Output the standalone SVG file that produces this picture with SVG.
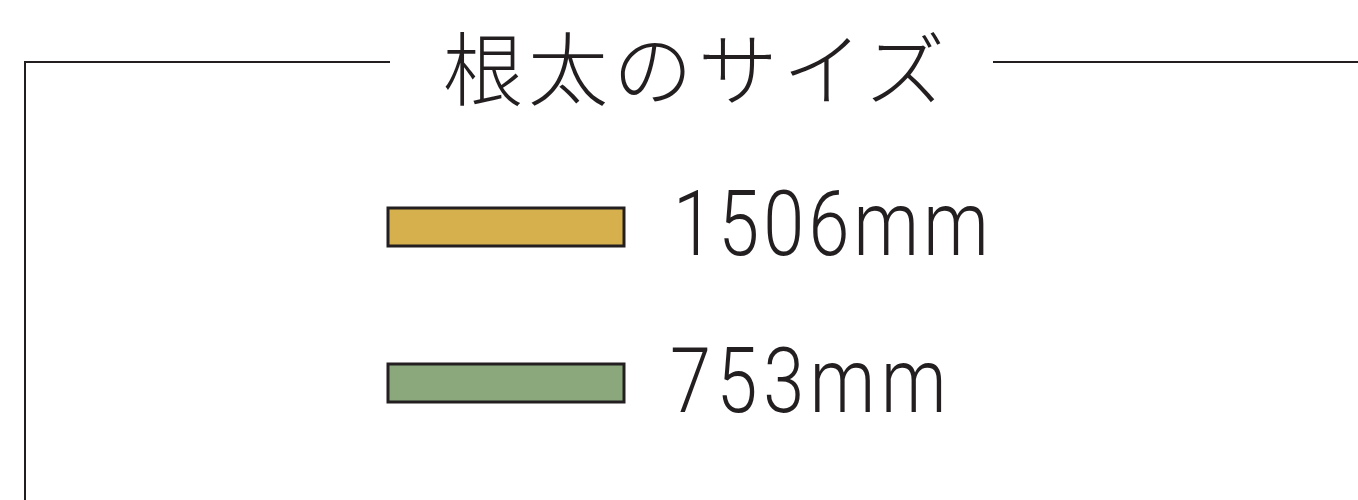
<svg xmlns="http://www.w3.org/2000/svg" width="1358" height="500" viewBox="0 0 1358 500">
<style>
.frame{fill:none;stroke:#231f20;stroke-width:2}
.bar{stroke:#231f20;stroke-width:3}
.num{font-family:Roboto,"Liberation Sans",sans-serif;font-weight:300;font-size:90px;fill:#231f20}
.title{font-family:"Noto Sans CJK JP",sans-serif;font-weight:300;font-size:80px;fill:#231f20}
</style>
<g id="frame">
<polyline class="frame" points="390,62 25,62 25,500"/>
<line class="frame" x1="993" y1="62" x2="1358" y2="62"/>
</g>
<g id="title"><text class="title" x="443" y="99" textLength="502" lengthAdjust="spacing">根太のサイズ</text></g>
<g id="legend-1506">
<rect class="bar" x="388" y="208" width="236" height="38" fill="#d6b04c"/>
<g transform="translate(673,255) scale(0.82,1)"><text class="num" x="0" y="0" textLength="385" lengthAdjust="spacing">1506mm</text></g>
</g>
<g id="legend-753">
<rect class="bar" x="388" y="364" width="236" height="38" fill="#8aa87c"/>
<g transform="translate(670,412) scale(0.82,1)"><text class="num" x="0" y="0" textLength="337" lengthAdjust="spacing">753mm</text></g>
</g>
<g id="connectors"/>
</svg>
